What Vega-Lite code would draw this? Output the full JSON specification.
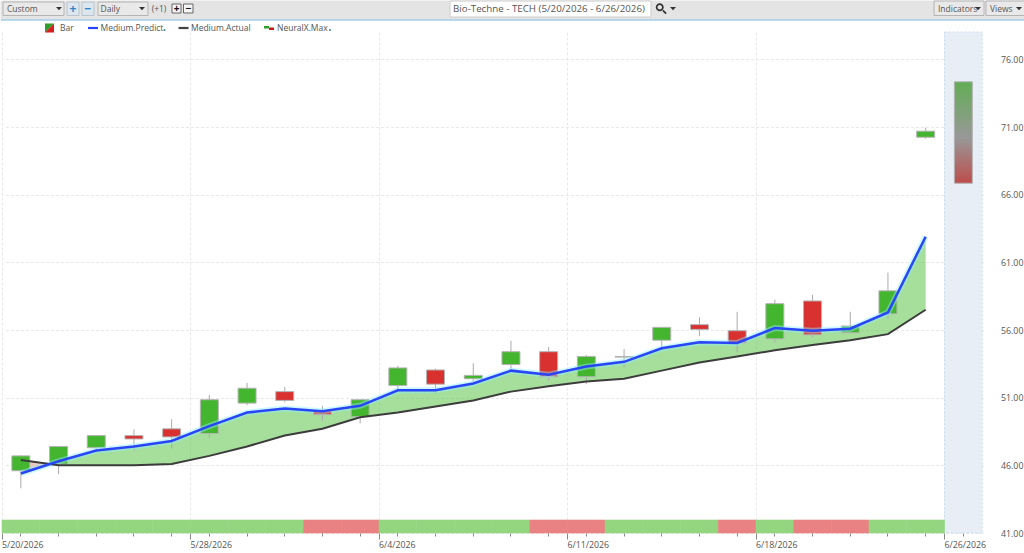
{
  "$schema": "https://vega.github.io/schema/vega-lite/v6.json",
  "padding": 0,
  "background": "white",
  "spacing": 0,
  "bounds": "flush",
  "config": {
    "view": {"stroke": null},
    "font": "Open Sans",
    "axis": {
      "title": null,
      "labelColor": "#555555",
      "labelFontSize": 8.8,
      "domain": false,
      "gridColor": "#e8e8e8",
      "gridDash": [3, 2]
    }
  },
  "datasets": {
    "boxes": [
      {"name": "strip", "kind": "strip", "x0": 0, "x1": 42, "y0": 0, "y1": 7},
      {"name": "Custom", "kind": "dropdown", "x0": 1, "x1": 6, "y0": 1, "y1": 5},
      {"name": "plus", "kind": "button", "x0": 7, "x1": 9, "y0": 1, "y1": 5},
      {"name": "minus", "kind": "button", "x0": 10, "x1": 13, "y0": 1, "y1": 5},
      {"name": "Daily", "kind": "dropdown", "x0": 14, "x1": 17, "y0": 1, "y1": 5},
      {"name": "zoom in", "kind": "small", "x0": 20, "x1": 22, "y0": 2, "y1": 4},
      {"name": "zoom out", "kind": "small", "x0": 23, "x1": 26, "y0": 2, "y1": 4},
      {"name": "title", "kind": "input", "x0": 30, "x1": 32, "y0": 0, "y1": 6},
      {"name": "Indicators", "kind": "dropdown", "x0": 35, "x1": 38, "y0": 0, "y1": 5},
      {"name": "Views", "kind": "dropdown", "x0": 39, "x1": 42, "y0": 0, "y1": 5}
    ],
    "labels": [
      {"label": "Custom", "x0": 2, "y0": 3},
      {"label": "Daily", "x0": 15, "y0": 3},
      {"label": "Indicators", "x0": 36, "y0": 3},
      {"label": "Views", "x0": 40, "y0": 3},
      {"label": "Bar", "x0": 5, "y0": 8},
      {"label": "Medium.Predict", "x0": 15, "y0": 8},
      {"label": "Medium.Actual", "x0": 25, "y0": 8},
      {"label": "NeuralX.Max", "x0": 28, "y0": 8}
    ],
    "glyphs": [
      {"glyph": "+", "tone": "blue", "x0": 8, "y0": 3},
      {"glyph": "−", "tone": "blue", "x0": 11, "y0": 3},
      {"glyph": "+", "tone": "black", "x0": 21, "y0": 3},
      {"glyph": "−", "tone": "black", "x0": 24, "y0": 3}
    ],
    "symbols": [
      {"sym": "arrow", "x0": 4, "y0": 3},
      {"sym": "arrow", "x0": 16, "y0": 3},
      {"sym": "arrow", "x0": 34, "y0": 3},
      {"sym": "arrow", "x0": 37, "y0": 3},
      {"sym": "arrow", "x0": 41, "y0": 3},
      {"sym": "search", "x0": 33, "y0": 3},
      {"sym": "dot", "x0": 19, "y0": 8},
      {"sym": "dot", "x0": 29, "y0": 8},
      {"sym": "barUp", "x0": 3, "y0": 8},
      {"sym": "barDown", "x0": 3, "y0": 8},
      {"sym": "predict", "x0": 12, "y0": 8},
      {"sym": "actual", "x0": 23, "y0": 8},
      {"sym": "neuralUp", "x0": 27, "y0": 8},
      {"sym": "neuralDown", "x0": 27, "y0": 8}
    ],
    "prices": [
      {"date": "5/20/2026", "open": 45.6, "close": 46.7, "high": 46.75, "low": 44.3, "predict": 45.4, "actual": 46.4, "signal": "up"},
      {"date": "5/21/2026", "open": 46.1, "close": 47.4, "high": 47.4, "low": 45.35, "predict": 46.3, "actual": 46.0, "signal": "up"},
      {"date": "5/22/2026", "open": 47.3, "close": 48.2, "high": 48.2, "low": 47.1, "predict": 47.1, "actual": 46.0, "signal": "up"},
      {"date": "5/26/2026", "open": 48.2, "close": 47.95, "high": 48.65, "low": 47.05, "predict": 47.4, "actual": 46.0, "signal": "up"},
      {"date": "5/27/2026", "open": 48.7, "close": 48.1, "high": 49.4, "low": 47.25, "predict": 47.8, "actual": 46.1, "signal": "up"},
      {"date": "5/28/2026", "open": 48.35, "close": 50.85, "high": 51.2, "low": 48.05, "predict": 48.9, "actual": 46.7, "signal": "up"},
      {"date": "5/29/2026", "open": 50.6, "close": 51.7, "high": 52.1, "low": 50.45, "predict": 49.9, "actual": 47.4, "signal": "up"},
      {"date": "6/1/2026", "open": 51.45, "close": 50.8, "high": 51.8, "low": 50.65, "predict": 50.2, "actual": 48.2, "signal": "up"},
      {"date": "6/2/2026", "open": 50.05, "close": 49.75, "high": 50.4, "low": 49.3, "predict": 50.0, "actual": 48.7, "signal": "down"},
      {"date": "6/3/2026", "open": 49.6, "close": 50.85, "high": 50.9, "low": 49.1, "predict": 50.4, "actual": 49.55, "signal": "down"},
      {"date": "6/4/2026", "open": 51.9, "close": 53.2, "high": 53.35, "low": 51.5, "predict": 51.55, "actual": 49.9, "signal": "up"},
      {"date": "6/5/2026", "open": 53.05, "close": 52.0, "high": 53.15, "low": 51.3, "predict": 51.55, "actual": 50.35, "signal": "up"},
      {"date": "6/8/2026", "open": 52.4, "close": 52.65, "high": 53.55, "low": 52.05, "predict": 52.05, "actual": 50.8, "signal": "up"},
      {"date": "6/9/2026", "open": 53.45, "close": 54.4, "high": 55.2, "low": 53.15, "predict": 53.0, "actual": 51.45, "signal": "up"},
      {"date": "6/10/2026", "open": 54.4, "close": 52.55, "high": 54.75, "low": 52.25, "predict": 52.7, "actual": 51.85, "signal": "down"},
      {"date": "6/11/2026", "open": 52.55, "close": 54.05, "high": 54.15, "low": 52.0, "predict": 53.3, "actual": 52.2, "signal": "down"},
      {"date": "6/12/2026", "open": 54.0, "close": 54.05, "high": 54.6, "low": 53.25, "predict": 53.65, "actual": 52.4, "signal": "up"},
      {"date": "6/15/2026", "open": 55.25, "close": 56.2, "high": 56.2, "low": 54.7, "predict": 54.65, "actual": 53.0, "signal": "up"},
      {"date": "6/16/2026", "open": 56.4, "close": 56.05, "high": 56.95, "low": 55.55, "predict": 55.1, "actual": 53.6, "signal": "up"},
      {"date": "6/17/2026", "open": 55.95, "close": 55.05, "high": 57.35, "low": 54.35, "predict": 55.05, "actual": 54.05, "signal": "down"},
      {"date": "6/18/2026", "open": 55.35, "close": 57.95, "high": 58.25, "low": 55.1, "predict": 56.15, "actual": 54.5, "signal": "up"},
      {"date": "6/22/2026", "open": 58.15, "close": 55.65, "high": 58.6, "low": 55.45, "predict": 55.95, "actual": 54.9, "signal": "down"},
      {"date": "6/23/2026", "open": 55.8, "close": 56.3, "high": 57.35, "low": 55.8, "predict": 56.1, "actual": 55.25, "signal": "down"},
      {"date": "6/24/2026", "open": 57.2, "close": 58.9, "high": 60.25, "low": 56.85, "predict": 57.3, "actual": 55.7, "signal": "up"},
      {"date": "6/25/2026", "open": 70.25, "close": 70.7, "high": 70.95, "low": 70.15, "predict": 62.9, "actual": 57.5, "signal": "up"}
    ],
    "forecast": [
      {"date": "6/26/2026", "low": 66.85, "high": 74.35}
    ]
  },
  "vconcat": [
    {
      "width": 1024,
      "height": 31,
      "encoding": {
        "x": {
          "field": "x0",
          "type": "quantitative",
          "axis": null,
          "scale": {
            "zero": false,
            "nice": false,
            "domain": [0,1,2,3,4,5,6,7,8,9,10,11,12,13,14,15,16,17,18,19,20,21,22,23,24,25,26,27,28,29,30,31,32,33,34,35,36,37,38,39,40,41,42],
            "range": [0,2,6,48.5,58,59,63,66,72,78,81,87,92,93,97,99.5,141,147,158,163.5,171,175.5,180,182.5,187.5,190,192,268,276,329,449,452,650,660,672,933,937,977,983,985,989,1018,1024]
          }
        },
        "y": {
          "field": "y0",
          "type": "quantitative",
          "axis": null,
          "scale": {
            "zero": false,
            "nice": false,
            "domain": [0,1,2,3,4,5,6,7,8,9],
            "range": [0,1,3,7.5,12,14.5,16,19,27,31]
          }
        }
      },
      "layer": [
        {
          "data": {"name": "boxes"},
          "mark": {"type": "rect", "strokeWidth": 1},
          "encoding": {
            "x2": {"field": "x1"},
            "y2": {"field": "y1"},
            "fill": {
              "field": "kind",
              "type": "nominal",
              "legend": null,
              "scale": {
                "domain": ["strip", "dropdown", "button", "small", "input"],
                "range": ["#e4e4e4", "#e9e9e9", "#dce6ee", "#f4f4f4", "#ffffff"]
              }
            },
            "stroke": {
              "field": "kind",
              "type": "nominal",
              "legend": null,
              "scale": {
                "domain": ["strip", "dropdown", "button", "small", "input"],
                "range": ["#e4e4e4", "#b4b4b4", "#b8c4cc", "#666666", "#cccccc"]
              }
            }
          }
        },
        {
          "data": {"values": [{"x0": 0, "x1": 42, "y0": 7}]},
          "mark": {"type": "rule", "color": "#a8d0ea", "strokeWidth": 1.5},
          "encoding": {"x2": {"field": "x1"}}
        },
        {
          "data": {"name": "labels"},
          "mark": {"type": "text", "align": "left", "baseline": "middle", "fontSize": 8.5, "color": "#555555"},
          "encoding": {"text": {"field": "label"}}
        },
        {
          "data": {"values": [{"label": "Bio-Techne - TECH (5/20/2026 - 6/26/2026)", "x0": 31, "y0": 3}]},
          "mark": {"type": "text", "align": "left", "baseline": "middle", "fontSize": 9.75, "color": "#555555"},
          "encoding": {"text": {"field": "label"}}
        },
        {
          "data": {"values": [{"label": "(+1)", "x0": 18, "y0": 3}]},
          "mark": {"type": "text", "align": "center", "baseline": "middle", "fontSize": 8.5, "color": "#555555"},
          "encoding": {"text": {"field": "label"}}
        },
        {
          "data": {"name": "glyphs"},
          "transform": [{"filter": "datum.tone == 'blue'"}],
          "mark": {"type": "text", "align": "center", "baseline": "middle", "fontSize": 12, "fontWeight": "bold", "color": "#2a86c8"},
          "encoding": {"text": {"field": "glyph"}}
        },
        {
          "data": {"name": "glyphs"},
          "transform": [{"filter": "datum.tone == 'black'"}],
          "mark": {"type": "text", "align": "center", "baseline": "middle", "fontSize": 10, "fontWeight": "bold", "color": "#111111"},
          "encoding": {"text": {"field": "glyph"}}
        },
        {
          "data": {"name": "symbols"},
          "mark": {"type": "point", "filled": true, "size": 100, "opacity": 1, "strokeWidth": 0},
          "encoding": {
            "shape": {
              "field": "sym",
              "type": "nominal",
              "legend": null,
              "scale": {
                "domain": ["arrow", "search", "dot", "barUp", "barDown", "predict", "actual", "neuralUp", "neuralDown"],
                "range": [
                  "M-.6,-.3L.6,-.3L0,.35Z",
                  "M-1.05,-.25A.8,.8,0,1,1,.55,-.25A.8,.8,0,1,1,-1.05,-.25ZM-.7,-.25A.45,.45,0,1,0,.2,-.25A.45,.45,0,1,0,-.7,-.25ZM.25,.5L.5,.25L1.15,.9L.9,1.15Z",
                  "M-.2,.4A.2,.2,0,1,1,.2,.4A.2,.2,0,1,1,-.2,.4Z",
                  "M-.9,-.9L.9,-.9L-.9,.9Z",
                  "M.9,-.9L.9,.9L-.9,.9Z",
                  "M-1,-.22L1,-.22L1,.22L-1,.22Z",
                  "M-1,-.22L1,-.22L1,.22L-1,.22Z",
                  "M-1,-.4L0,-.4L0,.1L-1,.1Z",
                  "M0,-.1L1,-.1L1,.4L0,.4Z"
                ]
              }
            },
            "color": {
              "field": "sym",
              "type": "nominal",
              "legend": null,
              "scale": {
                "domain": ["arrow", "search", "dot", "barUp", "barDown", "predict", "actual", "neuralUp", "neuralDown"],
                "range": ["#333333", "#333333", "#4a8ca8", "#2f9e2a", "#d42020", "#2a45f5", "#444444", "#2f9e2a", "#c81818"]
              }
            }
          }
        }
      ],
      "resolve": {"scale": {"fill": "independent", "stroke": "independent", "color": "independent"}}
    },
    {
      "width": 983.5,
      "height": 501,
      "data": {"name": "prices"},
      "encoding": {
        "x": {
          "field": "date",
          "type": "nominal",
          "axis": null,
          "scale": {
            "type": "band",
            "paddingInner": 0,
            "paddingOuter": 0,
            "range": [1, 981.2],
            "domain": ["5/20/2026","5/21/2026","5/22/2026","5/26/2026","5/27/2026","5/28/2026","5/29/2026","6/1/2026","6/2/2026","6/3/2026","6/4/2026","6/5/2026","6/8/2026","6/9/2026","6/10/2026","6/11/2026","6/12/2026","6/15/2026","6/16/2026","6/17/2026","6/18/2026","6/22/2026","6/23/2026","6/24/2026","6/25/2026","6/26/2026"]
          }
        }
      },
      "layer": [
        {
          "data": {"name": "forecast"},
          "mark": {"type": "bar", "color": "#e8eef6", "stroke": "#c6dcee", "strokeDash": [2, 2], "strokeWidth": 1},
          "encoding": {
            "x": {
              "field": "date",
              "type": "nominal",
              "axis": {
                "orient": "bottom",
                "bandPosition": 0,
                "grid": true,
                "ticks": true,
                "tickSize": 6,
                "tickColor": "#888888",
                "labelAlign": "left",
                "labelAngle": 0,
                "labelPadding": 1,
                "labelOffset": -18.9,
                "labelOverlap": false,
                "values": ["5/20/2026","5/28/2026","6/4/2026","6/11/2026","6/18/2026","6/26/2026"]
              },
              "scale": {
                "type": "band",
                "paddingInner": 0,
                "paddingOuter": 0,
                "range": [1, 981.2],
                "domain": ["5/20/2026","5/21/2026","5/22/2026","5/26/2026","5/27/2026","5/28/2026","5/29/2026","6/1/2026","6/2/2026","6/3/2026","6/4/2026","6/5/2026","6/8/2026","6/9/2026","6/10/2026","6/11/2026","6/12/2026","6/15/2026","6/16/2026","6/17/2026","6/18/2026","6/22/2026","6/23/2026","6/24/2026","6/25/2026","6/26/2026"]
              }
            },
            "y": {
              "datum": 41,
              "type": "quantitative",
              "title": null,
              "scale": {"domain": [41, 78.03], "nice": false, "zero": false},
              "axis": {
                "orient": "right",
                "values": [41, 46, 51, 56, 61, 66, 71, 76],
                "format": ".2f",
                "grid": true,
                "ticks": false,
                "labelPadding": 16
              }
            },
            "y2": {"datum": 78.03}
          }
        },
        {
          "mark": {"type": "bar", "strokeWidth": 0.6},
          "encoding": {
            "x": {
              "field": "date",
              "type": "nominal",
              "axis": {
                "orient": "bottom",
                "bandPosition": 0.5,
                "grid": false,
                "ticks": true,
                "tickSize": 3,
                "tickColor": "#888888",
                "labels": false
              },
              "scale": {
                "type": "band",
                "paddingInner": 0,
                "paddingOuter": 0,
                "range": [1, 981.2],
                "domain": ["5/20/2026","5/21/2026","5/22/2026","5/26/2026","5/27/2026","5/28/2026","5/29/2026","6/1/2026","6/2/2026","6/3/2026","6/4/2026","6/5/2026","6/8/2026","6/9/2026","6/10/2026","6/11/2026","6/12/2026","6/15/2026","6/16/2026","6/17/2026","6/18/2026","6/22/2026","6/23/2026","6/24/2026","6/25/2026","6/26/2026"]
              }
            },
            "y": {"datum": 41, "type": "quantitative", "title": null, "axis": null},
            "y2": {"datum": 41.96},
            "color": {
              "condition": {"test": "datum.signal == 'up'", "value": "#94d680"},
              "value": "#e98282"
            },
            "stroke": {
              "condition": {"test": "datum.signal == 'up'", "value": "#94d680"},
              "value": "#e98282"
            }
          }
        },
        {
          "transform": [{"filter": "datum.date != '5/20/2026'"}],
          "mark": {"type": "area", "color": "#5cc24a", "opacity": 0.55},
          "encoding": {
            "y": {"field": "predict", "type": "quantitative", "title": null, "axis": null},
            "y2": {"field": "actual"}
          }
        },
        {
          "transform": [{"filter": "datum.date == '5/20/2026' || datum.date == '5/21/2026'"}],
          "mark": {"type": "area", "color": "#e0a898", "opacity": 0.6},
          "encoding": {
            "y": {"field": "predict", "type": "quantitative", "title": null, "axis": null},
            "y2": {"field": "actual"}
          }
        },
        {
          "mark": {"type": "rule", "color": "#aaaaaa", "strokeWidth": 1},
          "encoding": {
            "y": {"field": "low", "type": "quantitative", "title": null, "axis": null},
            "y2": {"field": "high"}
          }
        },
        {
          "mark": {"type": "bar", "size": 18, "stroke": "#b4b4b4", "strokeWidth": 1},
          "encoding": {
            "y": {"field": "open", "type": "quantitative", "title": null, "axis": null},
            "y2": {"field": "close"},
            "color": {
              "condition": {"test": "datum.close >= datum.open", "value": "#44b52e"},
              "value": "#d93030"
            }
          }
        },
        {
          "data": {"name": "forecast"},
          "mark": {
            "type": "bar",
            "size": 18,
            "stroke": "#b4b4b4",
            "strokeWidth": 1,
            "color": {
              "gradient": "linear",
              "x1": 0,
              "y1": 0,
              "x2": 0,
              "y2": 1,
              "stops": [
                {"offset": 0, "color": "#62ad55"},
                {"offset": 0.55, "color": "#989898"},
                {"offset": 1, "color": "#bd4d4d"}
              ]
            }
          },
          "encoding": {
            "y": {"field": "low", "type": "quantitative", "title": null, "axis": null},
            "y2": {"field": "high"}
          }
        },
        {
          "mark": {"type": "line", "color": "#8ff0ff", "strokeWidth": 6, "opacity": 0.45},
          "encoding": {
            "y": {"field": "predict", "type": "quantitative", "title": null, "axis": null}
          }
        },
        {
          "mark": {"type": "line", "color": "#3c3c3c", "strokeWidth": 2},
          "encoding": {
            "y": {"field": "actual", "type": "quantitative", "title": null, "axis": null}
          }
        },
        {
          "mark": {"type": "line", "color": "#2a45f5", "strokeWidth": 2.5},
          "encoding": {
            "y": {"field": "predict", "type": "quantitative", "title": null, "axis": null}
          }
        }
      ],
      "resolve": {"axis": {"x": "independent", "y": "independent"}}
    }
  ]
}
